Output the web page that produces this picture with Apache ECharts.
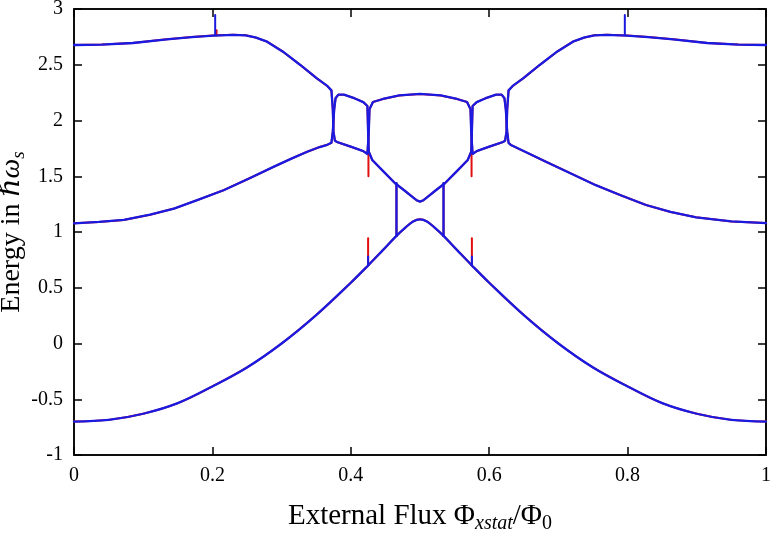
<!DOCTYPE html>
<html>
<head>
<meta charset="utf-8">
<script src="https://cdn.jsdelivr.net/npm/echarts@6/dist/echarts.min.js"></script>
<style>
  html, body { margin: 0; padding: 0; background: #fff; }
  #chart { width: 771px; height: 534px; }
</style>
</head>
<body>
<div id="chart"></div>
<script>
"use strict";
// energy levels, [flux, energy]
const upperLevel = [
    [0, 2.677], [0.04, 2.681], [0.085, 2.695], [0.134, 2.728], [0.17, 2.748], [0.201, 2.762],
    [0.23, 2.768], [0.248, 2.764], [0.262, 2.745], [0.279, 2.707], [0.302, 2.617], [0.327, 2.498],
    [0.351, 2.378], [0.366, 2.31], [0.372, 2.27], [0.374, 2.1], [0.375, 1.9], [0.377, 1.82],
    [0.38, 1.807], [0.4, 1.765], [0.418, 1.725], [0.424, 1.7], [0.426, 1.9], [0.427, 2.1],
    [0.432, 2.166], [0.4465, 2.193], [0.47, 2.225], [0.5, 2.238], [0.53, 2.225], [0.5535, 2.193],
    [0.568, 2.166], [0.573, 2.1], [0.574, 1.9], [0.576, 1.7], [0.582, 1.725], [0.6, 1.765],
    [0.62, 1.807], [0.623, 1.82], [0.625, 1.9], [0.626, 2.1], [0.628, 2.27], [0.634, 2.31],
    [0.649, 2.378], [0.673, 2.498], [0.698, 2.617], [0.721, 2.707], [0.738, 2.745], [0.752, 2.764],
    [0.77, 2.768], [0.799, 2.762], [0.83, 2.748], [0.866, 2.728], [0.915, 2.695], [0.96, 2.681],
    [1, 2.677]
];
const middleLevel = [
    [0, 1.078], [0.036, 1.09], [0.072, 1.108], [0.11, 1.155], [0.1445, 1.21], [0.18, 1.29],
    [0.217, 1.377], [0.253, 1.48], [0.289, 1.586], [0.315, 1.66], [0.337, 1.72], [0.355, 1.762],
    [0.366, 1.782], [0.372, 1.8], [0.374, 1.9], [0.376, 2.1], [0.378, 2.2], [0.382, 2.232],
    [0.39, 2.232], [0.405, 2.2], [0.418, 2.165], [0.424, 2.13], [0.425, 1.9], [0.426, 1.72],
    [0.431, 1.646], [0.446, 1.55], [0.464, 1.437], [0.478, 1.37], [0.488, 1.32], [0.495, 1.285],
    [0.5, 1.272], [0.505, 1.285], [0.512, 1.32], [0.522, 1.37], [0.536, 1.437], [0.554, 1.55],
    [0.569, 1.646], [0.574, 1.72], [0.575, 1.9], [0.576, 2.13], [0.582, 2.165], [0.595, 2.2],
    [0.61, 2.232], [0.618, 2.232], [0.622, 2.2], [0.624, 2.1], [0.626, 1.9], [0.628, 1.8],
    [0.6315, 1.78], [0.655, 1.71], [0.682, 1.63], [0.718, 1.525], [0.754, 1.42], [0.79, 1.33],
    [0.8266, 1.242], [0.862, 1.18], [0.899, 1.132], [0.95, 1.095], [1, 1.08]
];
const lowestLevel = [
    [0, -0.7], [0.05, -0.685], [0.1, -0.63], [0.15, -0.535], [0.2, -0.385], [0.25, -0.215],
    [0.3, 0], [0.35, 0.255], [0.4, 0.545], [0.425, 0.7], [0.446, 0.835], [0.466, 0.965],
    [0.48, 1.045], [0.49, 1.095], [0.5, 1.114], [0.51, 1.095], [0.52, 1.045], [0.534, 0.965],
    [0.554, 0.835], [0.575, 0.7], [0.6, 0.545], [0.65, 0.255], [0.7, 0], [0.75, -0.215],
    [0.8, -0.385], [0.85, -0.535], [0.9, -0.63], [0.95, -0.685], [1, -0.7]
];
// vertical jumps between the two lower levels
const bridgeLeft = [[0.466, 0.965], [0.466, 1.437]];
const bridgeRight = [[0.534, 0.965], [0.534, 1.437]];
// narrow spikes
const blueSpikes = [
    [[0.204, 2.764], [0.204, 2.946]],
    [[0.796, 2.764], [0.796, 2.946]],
    [[0.425, 0.7], [0.425, 0.78]],
    [[0.575, 0.7], [0.575, 0.78]]
];
const redSpikes = [
    [[0.206, 2.764], [0.206, 2.81]],
    [[0.425, 0.7], [0.425, 0.945]],
    [[0.575, 0.7], [0.575, 0.945]],
    [[0.4255, 1.72], [0.4255, 1.5]],
    [[0.5745, 1.72], [0.5745, 1.5]]
];
const xTicks = { min: 0, max: 1, interval: 0.2 };
const yTicks = { min: -1, max: 3, interval: 0.5 };

const RED = "#e01010";
const BLUE = "#1a1ae0";
const FONT = "'Liberation Serif', 'DejaVu Serif', serif";

const lineSeries = (data, color, width, z, smooth) => ({
    type: "line",
    data: data,
    symbol: "none",
    showSymbol: false,
    smooth: smooth || false,
    silent: true,
    animation: false,
    z: z,
    lineStyle: { color: color, width: width, join: "round", cap: "round" }
});

const series = [];
const levels = [upperLevel, middleLevel, lowestLevel, bridgeLeft, bridgeRight];
for (const path of levels) {
    series.push(lineSeries(path, RED, 2, 2, path === lowestLevel ? 0.35 : false));
}
for (const spike of redSpikes) {
    series.push(lineSeries(spike, RED, 2, 2));
}
for (const path of levels) {
    series.push(lineSeries(path, BLUE, 2.3, 3, path === lowestLevel ? 0.35 : false));
}
for (const spike of blueSpikes) {
    series.push(lineSeries(spike, BLUE, 2, 3));
}

const axisLineStyle = { color: "#000", width: 1.5 };
const tickStyle = { inside: true, length: 8, lineStyle: { color: "#000", width: 1.5 } };
const labelStyle = { color: "#000", fontFamily: FONT, fontSize: 20 };
const xNameRich = {
    t: { fontFamily: FONT, fontSize: 29, color: "#000" },
    s: { fontFamily: FONT, fontSize: 20, fontStyle: "italic", color: "#000", padding: [15, 0, 0, 0] },
    n: { fontFamily: FONT, fontSize: 20, color: "#000", padding: [15, 0, 0, 0] }
};
const yNameRich = {
    t: { fontFamily: FONT, fontSize: 28, color: "#000" },
    i: { fontFamily: FONT, fontSize: 28, fontStyle: "italic", color: "#000" },
    s: { fontFamily: FONT, fontSize: 19, fontStyle: "italic", color: "#000", padding: [14, 0, 0, 0] }
};

const chart = echarts.init(document.getElementById("chart"));
chart.setOption({
    animation: false,
    backgroundColor: "#fff",
    grid: {
        left: 74, right: 5, top: 9, bottom: 79,
        containLabel: false, outerBoundsMode: "none",
        show: true, borderColor: "#000", borderWidth: 1.5, backgroundColor: "transparent"
    },
    xAxis: [{
        type: "value",
        min: xTicks.min, max: xTicks.max, interval: xTicks.interval,
        axisLine: { show: true, onZero: false, lineStyle: axisLineStyle },
        axisTick: tickStyle,
        axisLabel: Object.assign({ margin: 11 }, labelStyle),
        splitLine: { show: false },
        name: "{t|External Flux Φ}{s|xstat}{t|/Φ}{n|0}",
        nameLocation: "middle",
        nameGap: 44,
        nameMoveOverlap: false,
        nameTextStyle: { rich: xNameRich }
    }, {
        type: "value",
        position: "top",
        min: xTicks.min, max: xTicks.max, interval: xTicks.interval,
        axisLine: { show: true, onZero: false, lineStyle: axisLineStyle },
        axisTick: tickStyle,
        axisLabel: { show: false },
        splitLine: { show: false }
    }],
    yAxis: [{
        type: "value",
        min: yTicks.min, max: yTicks.max, interval: yTicks.interval,
        axisLine: { show: true, onZero: false, lineStyle: axisLineStyle },
        axisTick: tickStyle,
        axisLabel: Object.assign({ margin: 11 }, labelStyle),
        splitLine: { show: false },
        name: "{t|Energy in }{i|ℏω}{s|s}",
        nameLocation: "middle",
        nameRotate: 90,
        nameGap: 46,
        nameMoveOverlap: false,
        nameTextStyle: { rich: yNameRich }
    }, {
        type: "value",
        position: "right",
        min: yTicks.min, max: yTicks.max, interval: yTicks.interval,
        axisLine: { show: true, onZero: false, lineStyle: axisLineStyle },
        axisTick: tickStyle,
        axisLabel: { show: false },
        splitLine: { show: false }
    }],
    series: series
});
</script>
</body>
</html>
